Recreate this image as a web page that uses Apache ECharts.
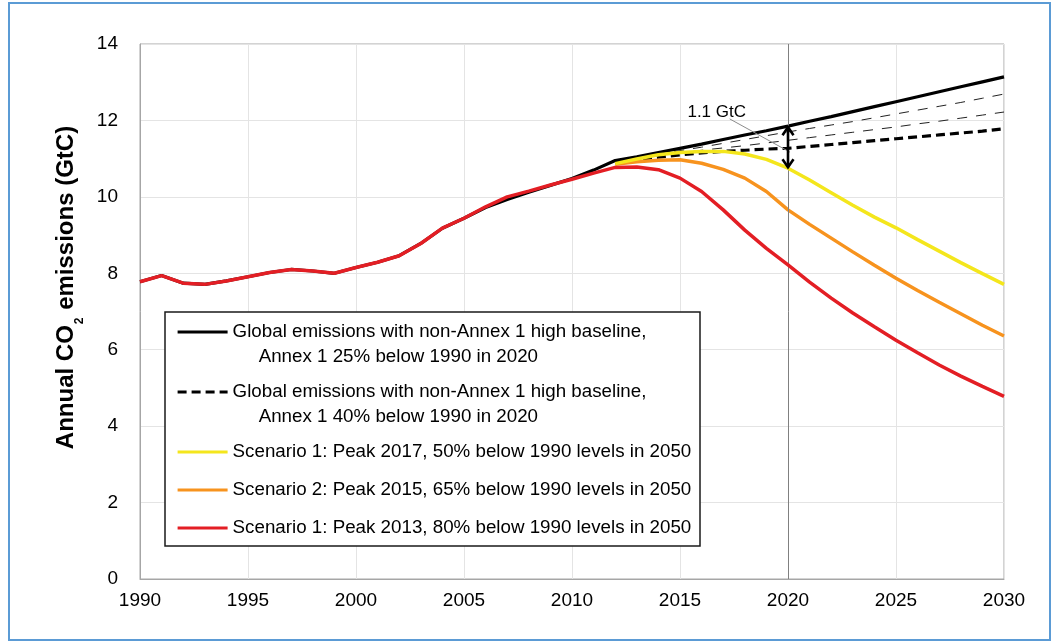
<!DOCTYPE html>
<html>
<head>
<meta charset="utf-8">
<script src="https://cdn.jsdelivr.net/npm/echarts@6/dist/echarts.min.js"></script>
<style>
  html, body { margin: 0; padding: 0; background: #ffffff; }
  #chart { width: 1052px; height: 643px; }
</style>
</head>
<body>
<div id="chart"></div>
<script>
// Annual global CO2 emissions (GtC): history and emission pathways to 2030
const histYears = [1990, 1991, 1992, 1993, 1994, 1995, 1996, 1997, 1998, 1999, 2000,
                   2001, 2002, 2003, 2004, 2005, 2006, 2007, 2008, 2009, 2010, 2011, 2012];
const projYears = [2012, 2013, 2014, 2015, 2016, 2017, 2018, 2019, 2020, 2021,
                   2022, 2023, 2024, 2025, 2026, 2027, 2028, 2029, 2030];

// historical emissions (as drawn under the scenario lines)
const historyScenario = [7.78, 7.94, 7.74, 7.71, 7.80, 7.91, 8.02, 8.10, 8.06, 8.00, 8.15,
                         8.29, 8.46, 8.78, 9.18, 9.44, 9.74, 10.00, 10.15, 10.31, 10.46, 10.62, 10.77];
const historyBaseline = [7.78, 7.94, 7.74, 7.71, 7.80, 7.91, 8.02, 8.10, 8.06, 8.00, 8.15,
                         8.29, 8.46, 8.78, 9.18, 9.44, 9.72, 9.93, 10.12, 10.30, 10.48, 10.70, 10.95];

// high baseline pathways, 2012-2030
const annex25 = [10.95, 11.05, 11.16, 11.27, 11.38, 11.50, 11.62, 11.73, 11.85, 11.98,
                 12.10, 12.23, 12.36, 12.49, 12.62, 12.75, 12.88, 13.01, 13.14];
const annex40 = [10.90, 10.97, 11.04, 11.10, 11.15, 11.19, 11.22, 11.25, 11.27, 11.32,
                 11.37, 11.42, 11.47, 11.52, 11.57, 11.62, 11.67, 11.72, 11.78];
// intermediate pathways between the two baselines, 2013-2030
const betweenUpper = [11.02, 11.11, 11.21, 11.30, 11.40, 11.50, 11.60, 11.70, 11.79,
                      11.88, 11.97, 12.07, 12.17, 12.27, 12.37, 12.47, 12.58, 12.69];
const betweenLower = [10.99, 11.07, 11.14, 11.22, 11.28, 11.34, 11.41, 11.48, 11.55,
                      11.62, 11.69, 11.76, 11.83, 11.91, 11.98, 12.06, 12.14, 12.22];

// mitigation scenarios, 2012-2030
const scenarioPeak2017 = [10.87, 10.99, 11.10, 11.16, 11.19, 11.19, 11.12, 10.98, 10.75, 10.44,
                          10.11, 9.78, 9.47, 9.19, 8.88, 8.58, 8.28, 7.99, 7.71];
const scenarioPeak2015 = [10.85, 10.92, 10.96, 10.97, 10.88, 10.72, 10.49, 10.14, 9.66, 9.28,
                          8.92, 8.56, 8.21, 7.87, 7.55, 7.24, 6.94, 6.64, 6.36];
const scenarioPeak2013 = [10.77, 10.78, 10.71, 10.49, 10.14, 9.66, 9.13, 8.65, 8.22, 7.77,
                          7.35, 6.96, 6.60, 6.25, 5.92, 5.60, 5.31, 5.04, 4.78];

// axis ticks
const xTicks = [1990, 1995, 2000, 2005, 2010, 2015, 2020, 2025, 2030];
const yTicks = [0, 2, 4, 6, 8, 10, 12, 14];

const gapYear = 2020;
const gapLabel = '1.1 GtC';

// legend entries: series name, lines of text
const seriesNames = ['annex25', 'annex40', 'peak2017', 'peak2015', 'peak2013'];
const legendLines = [
  ['Global emissions with non-Annex 1 high baseline,', 'Annex 1 25% below 1990 in 2020'],
  ['Global emissions with non-Annex 1 high baseline,', 'Annex 1 40% below 1990 in 2020'],
  ['Scenario 1: Peak 2017, 50% below 1990 levels in 2050'],
  ['Scenario 2: Peak 2015, 65% below 1990 levels in 2050'],
  ['Scenario 1: Peak 2013, 80% below 1990 levels in 2050']
];

const FONT = '"Liberation Sans", Arial, sans-serif';

function pairs(xs, ys) { return xs.map((x, i) => [x, ys[i]]); }
const yearsFrom2013 = projYears.slice(1);

const gapIdx = projYears.indexOf(gapYear);
const gapTop = annex25[gapIdx];
const gapBottom = scenarioPeak2017[gapIdx];

const chart = echarts.init(document.getElementById('chart'), null, { renderer: 'canvas' });

// legend: one small legend block per entry, inside a shared framed box
const legendTop = [332, 392, 452, 490, 528];
const LINE_H = 25;
const legends = seriesNames.map((name, i) => {
  const lines = legendLines[i];
  const twoLine = lines.length > 1;
  return {
    show: true,
    data: [name],
    orient: 'vertical',
    left: 176,
    top: legendTop[i] - (twoLine ? 1.5 * LINE_H : 0.5 * LINE_H),
    padding: 0,
    itemWidth: 50,
    itemHeight: 14,
    itemGap: 0,
    selectedMode: false,
    z: 12,
    itemStyle: { opacity: 0 },
    lineStyle: { width: 3.2 },
    textStyle: { fontFamily: FONT, fontSize: 18.75, color: '#000', lineHeight: LINE_H },
    formatter: () => twoLine ? '\n' + lines[0] + '\n     ' + lines[1] : lines[0]
  };
});

const lineBase = { type: 'line', symbol: 'none', silent: true, animation: false };

const option = {
  animation: false,
  backgroundColor: '#ffffff',
  grid: {
    left: 140, right: 48, top: 44, bottom: 64,
    show: true, borderColor: '#a6a6a6', borderWidth: 1, containLabel: false
  },
  xAxis: {
    type: 'value', min: 1990, max: 2030, interval: 5,
    axisLine: { show: true, lineStyle: { color: '#a6a6a6', width: 1 } },
    axisTick: { show: false },
    axisLabel: {
      fontFamily: FONT, fontSize: 19, color: '#000', margin: 12,
      formatter: v => xTicks.includes(v) ? String(v) : ''
    },
    splitLine: { show: true, lineStyle: { color: '#e4e4e4', width: 1 } }
  },
  yAxis: {
    type: 'value', min: 0, max: 14, interval: 2,
    axisLine: { show: true, lineStyle: { color: '#a6a6a6', width: 1 } },
    axisTick: { show: false },
    axisLabel: {
      fontFamily: FONT, fontSize: 19, color: '#000', margin: 22,
      formatter: v => yTicks.includes(v) ? String(v) : ''
    },
    splitLine: { show: true, lineStyle: { color: '#e4e4e4', width: 1 } },
    name: '{t|Annual CO}{s|2}{t| emissions (GtC)}',
    nameLocation: 'middle',
    nameRotate: 90,
    nameGap: 58,
    nameTextStyle: {
      padding: [0, 0, 0, 48],
      rich: {
        t: { fontFamily: FONT, fontSize: 24, fontWeight: 'bold', color: '#000', lineHeight: 28, verticalAlign: 'top' },
        s: { fontFamily: FONT, fontSize: 12, fontWeight: 'bold', color: '#000', lineHeight: 12, verticalAlign: 'top', padding: [20, 1, 0, 1] }
      }
    }
  },
  legend: legends,
  graphic: [
    {
      type: 'rect', z: 11, silent: true,
      shape: { x: 165, y: 312, width: 535, height: 234 },
      style: { fill: '#ffffff', stroke: '#1a1a1a', lineWidth: 1.5 }
    },
    {
      type: 'rect', z: 20, silent: true,
      shape: { x: 9, y: 3, width: 1041, height: 637 },
      style: { fill: null, stroke: '#5b9bd5', lineWidth: 2 }
    }
  ],
  series: [
    Object.assign({}, lineBase, {
      name: 'annex25', z: 3,
      data: pairs(histYears, historyBaseline).concat(pairs(projYears.slice(1), annex25.slice(1))),
      lineStyle: { color: '#000', width: 3.2, type: 'solid' },
      itemStyle: { color: '#000' },
      markLine: {
        silent: true, symbol: ['none', 'none'], animation: false,
        label: { show: false },
        lineStyle: { color: '#808080', width: 1, type: 'solid' },
        data: [{ xAxis: gapYear }]
      }
    }),
    Object.assign({}, lineBase, {
      name: 'annex40', z: 3,
      data: pairs(projYears, annex40),
      lineStyle: { color: '#000', width: 3.2, type: [9, 5] },
      itemStyle: { color: '#000' }
    }),
    Object.assign({}, lineBase, {
      name: 'between-upper', z: 2,
      data: pairs(yearsFrom2013, betweenUpper),
      lineStyle: { color: '#222', width: 1, type: [10, 9] }
    }),
    Object.assign({}, lineBase, {
      name: 'between-lower', z: 2,
      data: pairs(yearsFrom2013, betweenLower),
      lineStyle: { color: '#222', width: 1, type: [10, 9] }
    }),
    Object.assign({}, lineBase, {
      name: 'peak2015', z: 4,
      data: pairs(projYears, scenarioPeak2015),
      lineStyle: { color: '#f7931e', width: 3.5 },
      itemStyle: { color: '#f7931e' }
    }),
    Object.assign({}, lineBase, {
      name: 'peak2017', z: 5,
      data: pairs(projYears, scenarioPeak2017),
      lineStyle: { color: '#f4e61c', width: 3.5 },
      itemStyle: { color: '#f4e61c' }
    }),
    Object.assign({}, lineBase, {
      name: 'peak2013', z: 6,
      data: pairs(histYears, historyScenario).concat(pairs(projYears.slice(1), scenarioPeak2013.slice(1))),
      lineStyle: { color: '#e31e24', width: 3.5 },
      itemStyle: { color: '#e31e24' }
    }),
    {
      // double-headed arrow marking the gap between baseline and scenario 1 in 2020
      type: 'custom', silent: true, z: 8, animation: false,
      data: [[gapYear, gapTop, gapBottom]],
      renderItem: (params, api) => {
        const x = api.value(0);
        const a = api.coord([x, api.value(1)]);
        const b = api.coord([x, api.value(2)]);
        const w = 5.5, h = 8;
        const st = { stroke: '#000', lineWidth: 2.6, fill: null, lineJoin: 'miter' };
        return {
          type: 'group',
          children: [
            { type: 'line', shape: { x1: a[0], y1: a[1] + 1, x2: b[0], y2: b[1] - 1 }, style: st },
            { type: 'polyline', shape: { points: [[a[0] - w, a[1] + h + 1], [a[0], a[1] + 1], [a[0] + w, a[1] + h + 1]] }, style: st },
            { type: 'polyline', shape: { points: [[b[0] - w, b[1] - h - 1], [b[0], b[1] - 1], [b[0] + w, b[1] - h - 1]] }, style: st }
          ]
        };
      }
    },
    {
      // label for the gap with its leader line
      type: 'custom', silent: true, z: 7, animation: false,
      data: [[2016.7, 12.22, 2017.3, 12.04, 2020.09, 11.17]],
      renderItem: (params, api) => {
        const t = api.coord([api.value(0), api.value(1)]);
        const p1 = api.coord([api.value(2), api.value(3)]);
        const p2 = api.coord([api.value(4), api.value(5)]);
        return {
          type: 'group',
          children: [
            { type: 'line', shape: { x1: p1[0], y1: p1[1], x2: p2[0], y2: p2[1] }, style: { stroke: '#8c8c8c', lineWidth: 1 } },
            { type: 'text', x: t[0], y: t[1], style: { text: gapLabel, fontFamily: FONT, fontSize: 17, fill: '#000', align: 'center', verticalAlign: 'middle' } }
          ]
        };
      }
    }
  ]
};

chart.setOption(option);
</script>
</body>
</html>
